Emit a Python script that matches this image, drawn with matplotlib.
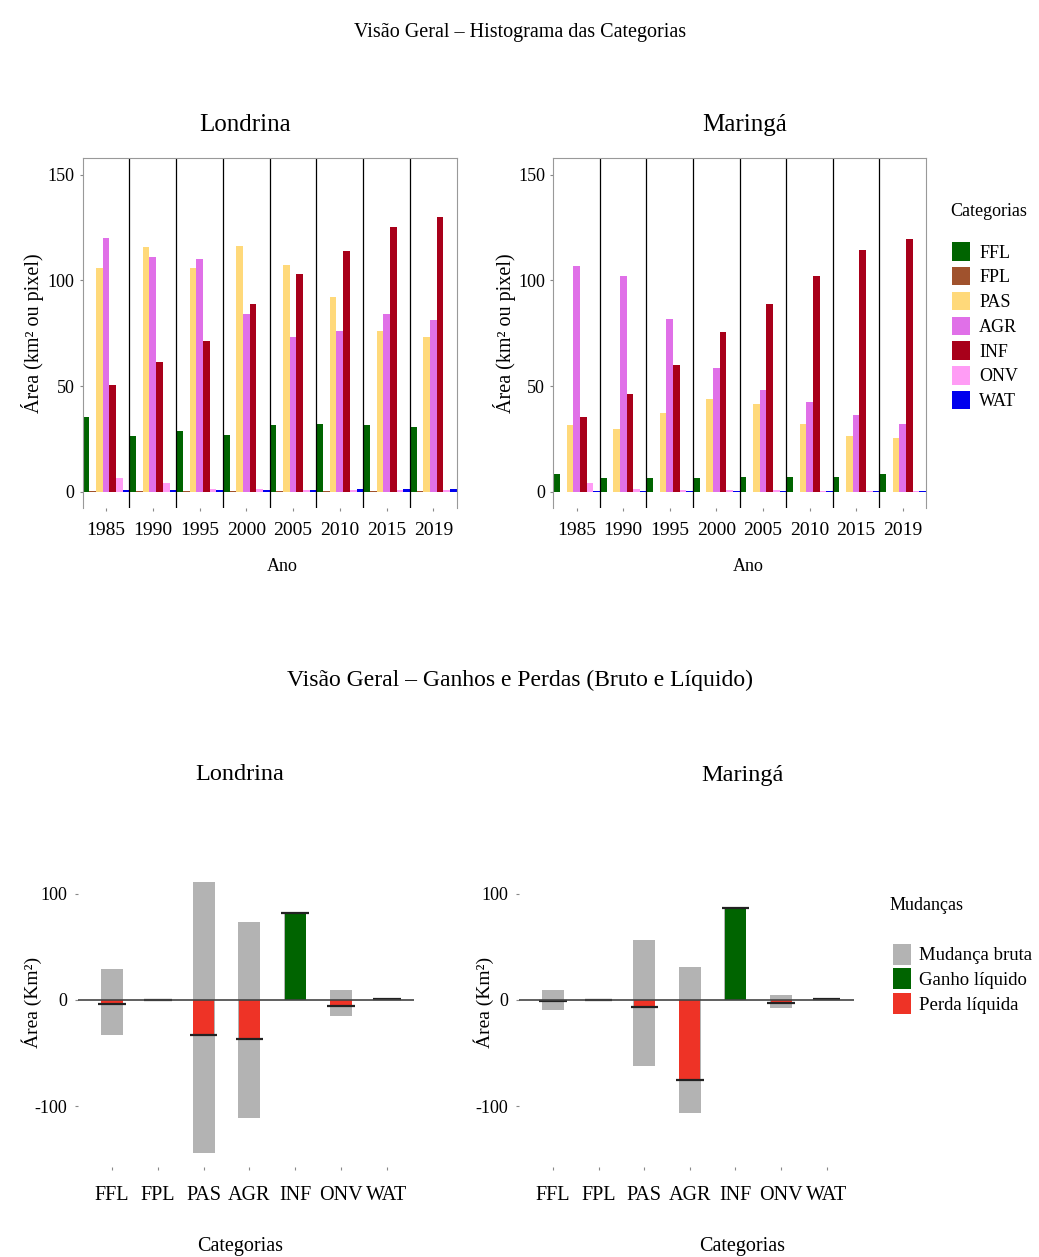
import matplotlib
matplotlib.use("Agg")
import matplotlib.pyplot as plt
from matplotlib.patches import Patch
import numpy as np

plt.rcParams['font.family'] = ['Liberation Serif', 'DejaVu Serif']

# --- Dados: histograma das categorias (km²) ---
anos = ['1985', '1990', '1995', '2000', '2005', '2010', '2015', '2019']
categorias = ['FFL', 'FPL', 'PAS', 'AGR', 'INF', 'ONV', 'WAT']
cores_cat = ['#006400', '#A0522D', '#FFD97A', '#E070E8', '#A8001A', '#FF9CF5', '#0000EE']

londrina_FFL = [35.4, 26.3, 28.6, 26.7, 31.4, 32.0, 31.4, 30.7]
londrina_FPL = [0.2, 0.2, 0.2, 0.2, 0.2, 0.2, 0.2, 0.2]
londrina_PAS = [106, 115.6, 106, 116, 107, 92, 76, 73]
londrina_AGR = [120, 111, 110, 84, 73, 76, 84, 81]
londrina_INF = [50.3, 61.3, 71.2, 88.8, 103, 114, 125, 130]
londrina_ONV = [6.3, 4.0, 1.5, 1.2, 1.0, 0.8, 0.6, 0.6]
londrina_WAT = [1.0, 1.0, 1.0, 1.0, 1.0, 1.2, 1.2, 1.2]

maringa_FFL = [8.6, 6.3, 6.6, 6.6, 7.0, 7.0, 7.0, 8.6]
maringa_FPL = [0.1, 0.1, 0.1, 0.1, 0.1, 0.1, 0.1, 0.1]
maringa_PAS = [31.4, 29.9, 37.0, 43.7, 41.7, 32.2, 26.4, 25.5]
maringa_AGR = [106.6, 102, 81.8, 58.5, 48, 42.5, 36.2, 32.2]
maringa_INF = [35.4, 46.4, 59.7, 75.5, 88.8, 102, 114.5, 119.5]
maringa_ONV = [4.0, 1.5, 1.0, 0.8, 0.6, 0.5, 0.5, 0.5]
maringa_WAT = [0.3, 0.3, 0.3, 0.3, 0.3, 0.3, 0.3, 0.3]

# --- Dados: ganhos e perdas (km²) ---
londrina_ganho_bruto = [28.8, 0.5, 111, 73.6, 81.5, 9.3, 1.5]
londrina_perda_bruta = [-32.9, -0.5, -144, -111, 0, -15, -0.3]
londrina_liquido = [-4.1, 0.0, -33, -37, 81.5, -5.7, 1.2]

maringa_ganho_bruto = [9.0, 0.4, 56, 31, 86, 4.8, 1.0]
maringa_perda_bruta = [-9.6, -0.4, -62.5, -106, 0, -7.4, -0.2]
maringa_liquido = [-0.6, 0.0, -6.5, -75, 86, -2.6, 0.8]

W, H = 1039, 1257
fig = plt.figure(figsize=(W / 100, H / 100), dpi=100)


def px_axes(x0, y0, x1, y1):
    return fig.add_axes([x0 / W, 1 - y1 / H, (x1 - x0) / W, (y1 - y0) / H])


def histograma(ax, series):
    n = len(categorias)
    w = 1.0 / n
    x = np.arange(len(anos))
    for j, (vals, cor) in enumerate(zip(series, cores_cat)):
        ax.bar(x - 0.5 + w * (j + 0.5), vals, width=w, color=cor, linewidth=0)
    for i in range(1, len(anos)):
        ax.axvline(i - 0.5, color='black', linewidth=0.9)
    ax.set_xlim(-0.5, len(anos) - 0.5)
    ax.set_ylim(-7.7, 157.7)
    ax.set_xticks(x)
    ax.set_xticklabels(anos)
    ax.set_yticks([0, 50, 100, 150])
    for s in ['left', 'right', 'top']:
        ax.spines[s].set_color('#999999')
    ax.spines['bottom'].set_visible(False)
    ax.tick_params(axis='x', length=2, color='#888888', labelsize=14, pad=8)
    ax.tick_params(axis='y', length=2, color='#888888', labelsize=13, pad=4)


ax1 = px_axes(82.7, 158.3, 456.7, 508)
histograma(ax1, [londrina_FFL, londrina_FPL, londrina_PAS, londrina_AGR,
                 londrina_INF, londrina_ONV, londrina_WAT])
ax2 = px_axes(553.3, 158.3, 926, 508)
histograma(ax2, [maringa_FFL, maringa_FPL, maringa_PAS, maringa_AGR,
                 maringa_INF, maringa_ONV, maringa_WAT])

fig.text(520 / W, 1 - 32 / H, 'Visão Geral – Histograma das Categorias', ha='center', va='center', fontsize=14.5)
fig.text(245 / W, 1 - 125 / H, 'Londrina', ha='center', va='center', fontsize=18)
fig.text(745 / W, 1 - 125 / H, 'Maringá', ha='center', va='center', fontsize=18)
fig.text(282 / W, 1 - 567 / H, 'Ano', ha='center', va='center', fontsize=13)
fig.text(748 / W, 1 - 567 / H, 'Ano', ha='center', va='center', fontsize=13)
fig.text(33 / W, 1 - 333 / H, 'Área (km² ou pixel)', ha='center', va='center', rotation=90, fontsize=14.5)
fig.text(504 / W, 1 - 333 / H, 'Área (km² ou pixel)', ha='center', va='center', rotation=90, fontsize=14.5)

# legenda das categorias
fig.text(950 / W, 1 - 212 / H, 'Categorias', ha='left', va='center', fontsize=13)
h_cat = [Patch(facecolor=c, edgecolor='none') for c in cores_cat]
fig.legend(h_cat, categorias, loc='upper left',
           bbox_to_anchor=(945 / W, 1 - 235 / H), frameon=False, fontsize=13,
           handlelength=1.0, handleheight=1.2, handletextpad=0.5,
           labelspacing=0.3, borderaxespad=0)


def ganhos_perdas(ax, ganho, perda, liquido):
    x = np.arange(len(categorias))
    ax.bar(x, ganho, width=0.48, color='#B3B3B3', linewidth=0)
    ax.bar(x, perda, width=0.48, color='#B3B3B3', linewidth=0)
    cores_liq = ['#006400' if v > 0 else '#EE3326' for v in liquido]
    ax.bar(x, liquido, width=0.46, color=cores_liq, linewidth=0)
    ax.hlines(liquido, x - 0.3, x + 0.3, color='#222222', linewidth=1.6)
    ax.axhline(0, color='#444444', linewidth=1.2)
    ax.set_xlim(-0.74, 6.6)
    ax.set_ylim(-157, 124)
    ax.set_xticks(x)
    ax.set_xticklabels(categorias)
    ax.set_yticks([-100, 0, 100])
    ax.set_yticklabels(['-100', '0', '100'])
    for s in ax.spines.values():
        s.set_visible(False)
    ax.tick_params(axis='x', length=2, color='#888888', labelsize=14.5, pad=12)
    ax.tick_params(axis='y', length=2, color='#888888', labelsize=13, pad=6)


ax3 = px_axes(78.1, 868, 414.3, 1167)
ganhos_perdas(ax3, londrina_ganho_bruto, londrina_perda_bruta, londrina_liquido)
ax4 = px_axes(519.3, 868, 854, 1167)
ganhos_perdas(ax4, maringa_ganho_bruto, maringa_perda_bruta, maringa_liquido)

fig.text(520 / W, 1 - 680 / H, 'Visão Geral – Ganhos e Perdas (Bruto e Líquido)', ha='center', va='center', fontsize=17)
fig.text(240 / W, 1 - 775 / H, 'Londrina', ha='center', va='center', fontsize=17.5)
fig.text(742 / W, 1 - 775 / H, 'Maringá', ha='center', va='center', fontsize=17.5)
fig.text(240 / W, 1 - 1246 / H, 'Categorias', ha='center', va='center', fontsize=14.5)
fig.text(742 / W, 1 - 1246 / H, 'Categorias', ha='center', va='center', fontsize=14.5)
fig.text(32 / W, 1 - 1002 / H, 'Área (Km²)', ha='center', va='center', rotation=90, fontsize=14)
fig.text(484 / W, 1 - 1002 / H, 'Área (Km²)', ha='center', va='center', rotation=90, fontsize=14)

# legenda das mudanças
fig.text(890 / W, 1 - 905 / H, 'Mudanças', ha='left', va='center', fontsize=13)
h_mud = [Patch(facecolor=c, edgecolor='none') for c in ['#B3B3B3', '#006400', '#EE3326']]
fig.legend(h_mud, ['Mudança bruta', 'Ganho líquido', 'Perda líquida'],
           loc='upper left', bbox_to_anchor=(885 / W, 1 - 936 / H), frameon=False, fontsize=13.5,
           handlelength=1.0, handleheight=1.35, handletextpad=0.4,
           labelspacing=0.2, borderaxespad=0)

plt.savefig('out.png', dpi=100)
